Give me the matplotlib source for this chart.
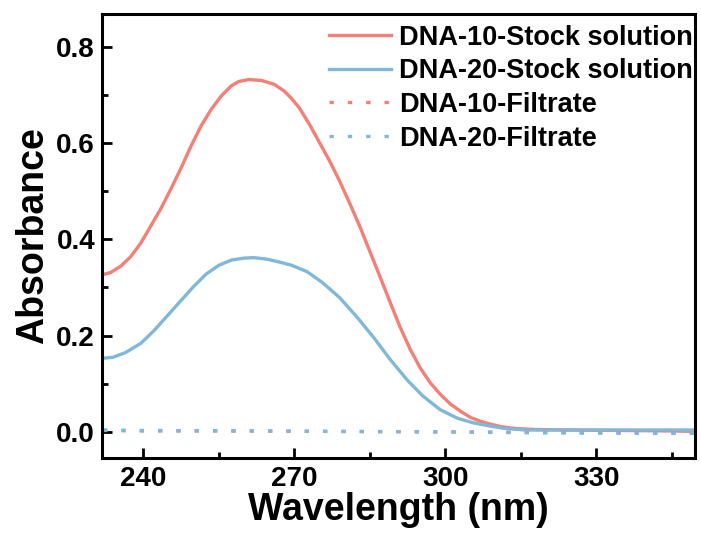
import numpy as np
import matplotlib.pyplot as plt

plt.rcParams['font.family'] = ['Liberation Sans', 'DejaVu Sans']
plt.rcParams['font.weight'] = 'bold'

# UV-vis spectra, wavelength in nm
wl_10 = [232, 233.5, 235.5, 237.5, 239.5, 241.5, 243.5, 245.5, 247.5, 249.5,
         251.5, 253.5, 255.5, 257.5, 259, 261, 263.5, 266, 268, 269.5, 271, 273,
         275, 277, 279, 281, 283, 285, 287, 289, 291, 293, 295, 297, 299, 301,
         303, 305, 307, 309, 311, 314, 318, 325, 335, 345, 350]
dna10_stock = [0.327, 0.331, 0.344, 0.364, 0.392, 0.428, 0.464, 0.505, 0.548, 0.594,
               0.636, 0.670, 0.698, 0.719, 0.728, 0.732, 0.730, 0.722, 0.708, 0.692,
               0.673, 0.639, 0.601, 0.563, 0.521, 0.475, 0.427, 0.375, 0.323, 0.270,
               0.218, 0.172, 0.133, 0.102, 0.078, 0.058, 0.043, 0.030, 0.022, 0.016,
               0.011, 0.007, 0.005, 0.004, 0.003, 0.002, 0.001]

wl_20 = [232, 234, 236.5, 239.5, 242, 244.5, 247.5, 250, 252.5, 255, 257.5, 260,
         262, 264.5, 267, 269.5, 272.5, 275.5, 279, 282.5, 286, 289, 292.5, 295.5,
         299, 302.5, 305.5, 309, 312, 316, 325, 335, 350]
dna20_stock = [0.153, 0.155, 0.165, 0.184, 0.209, 0.238, 0.273, 0.302, 0.328, 0.346,
               0.357, 0.361, 0.362, 0.359, 0.353, 0.346, 0.333, 0.311, 0.279, 0.238,
               0.193, 0.151, 0.107, 0.075, 0.046, 0.028, 0.019, 0.012, 0.007, 0.004,
               0.004, 0.004, 0.004]

wl_filt = [232, 240, 260, 280, 300, 320, 340, 350]
dna10_filt = [0.003, 0.002, 0.002, 0.001, 0.000, -0.001, -0.002, -0.002]
dna20_filt = [0.004, 0.003, 0.002, 0.001, 0.000, -0.002, -0.003, -0.003]

red = '#f47f76'
blue = '#7fb8da'

fig = plt.figure(figsize=(7.01, 5.40), dpi=100)
ax = fig.add_axes([0.1455, 0.152, 0.846, 0.822])

ax.plot(wl_10, dna10_stock, color=red, lw=2.4, label='DNA-10-Stock solution')
ax.plot(wl_20, dna20_stock, color=blue, lw=2.4, label='DNA-20-Stock solution')
ax.plot(wl_filt, dna10_filt, color=red, lw=2.4, dashes=(1.3, 4.2),
        label='DNA-10-Filtrate')
ax.plot(wl_filt, dna20_filt, color=blue, lw=2.4, dashes=(1.3, 4.2),
        label='DNA-20-Filtrate')

ax.set_xlim(231.8, 349.6)
ax.set_ylim(-0.054, 0.868)
ax.set_xticks([240, 270, 300, 330])
ax.set_xticks([255, 285, 315, 345], minor=True)
ax.set_yticks([0.0, 0.2, 0.4, 0.6, 0.8])
ax.set_yticks([0.1, 0.3, 0.5, 0.7], minor=True)
ax.set_yticklabels(['0.0', '0.2', '0.4', '0.6', '0.8'])

for s in ax.spines.values():
    s.set_linewidth(2.2)
ax.tick_params(which='both', direction='in', width=2.0, top=False, right=False,
               labelsize=20)
ax.tick_params(axis='x', pad=6)
ax.tick_params(axis='y', pad=5)
ax.tick_params(which='major', length=7)
ax.tick_params(which='minor', length=4)

ax.set_xlabel('Wavelength (nm)', fontsize=27, fontweight='bold', labelpad=0)
ax.set_ylabel('Absorbance', fontsize=27, fontweight='bold', labelpad=4)

ax.legend(loc='upper right', bbox_to_anchor=(1.006, 0.988), frameon=False,
          fontsize=19.5, handlelength=2.3, handletextpad=0.3, labelspacing=0.28,
          borderaxespad=0.0, borderpad=0.2)

fig.savefig('out.png', dpi=100)
